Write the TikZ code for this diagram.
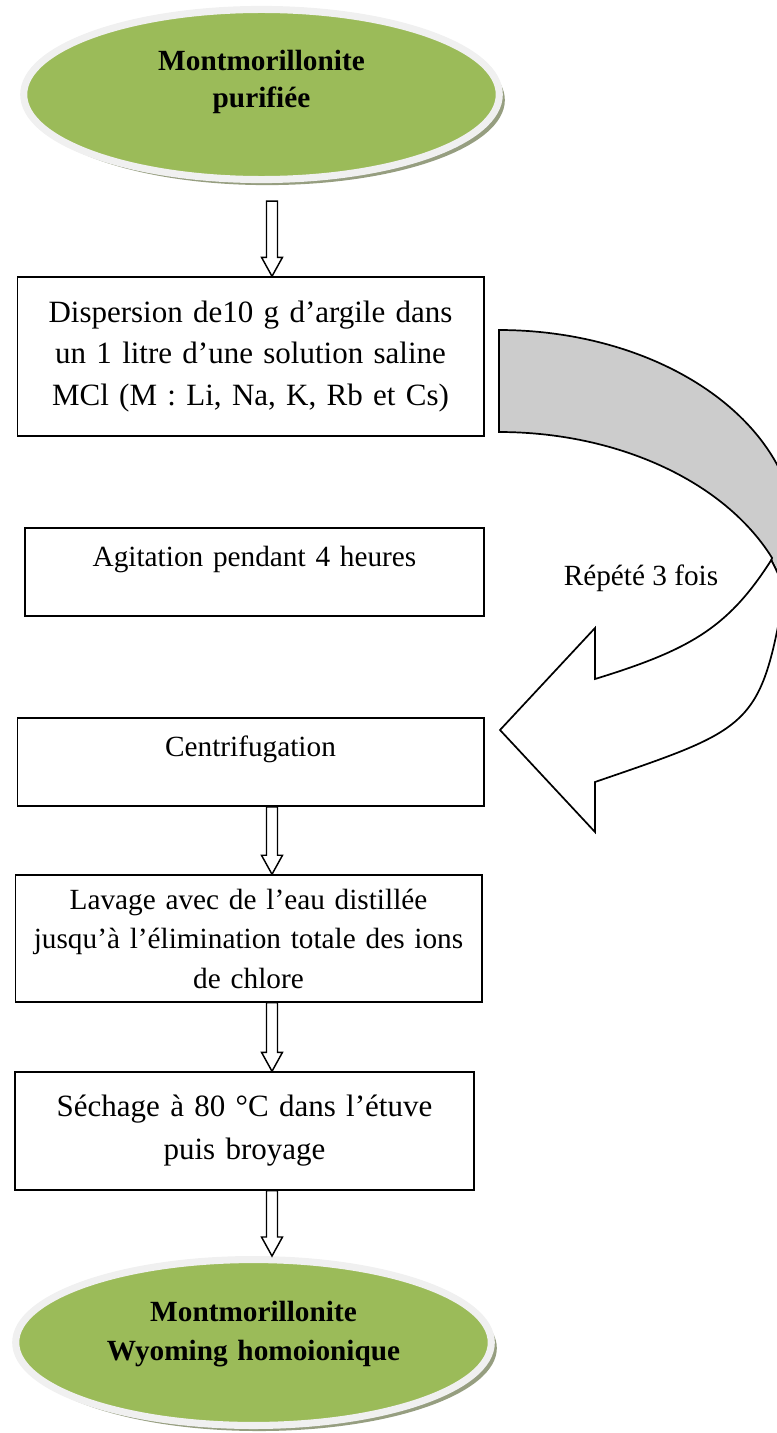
\documentclass[tikz,border=0pt]{standalone}
\usepackage{fontspec}
\setmainfont{Liberation Serif}
\usetikzlibrary{positioning,calc,shapes.geometric,shadows}
\definecolor{olivegreen}{RGB}{155,187,89}
\definecolor{ringgray}{RGB}{240,240,240}
\definecolor{shadowol}{RGB}{150,158,128}
\definecolor{backgray}{RGB}{204,204,204}
\newcommand{\hollowarr}[2]{\draw[harr]($(#1)+(-5.5,0)$)--($(#2)+(-5.5,-19)$)--($(#2)+(-10.5,-19)$)--(#2)--($(#2)+(10.5,-19)$)--($(#2)+(5.5,-19)$)--($(#1)+(5.5,0)$)--cycle;}

\begin{document}
\begin{tikzpicture}[x=0.0144cm,y=-0.0144cm,
 box/.style={draw,line width=.6pt,inner sep=.1cm,align=center,font=\fontsize{12}{16.2}\selectfont},
 oval/.style={ellipse,draw=ringgray,line width=2.9pt,fill=olivegreen,inner sep=0pt,text width=4.6cm,align=center,text height=.3cm,minimum width=6.85cm,drop shadow={shadow xshift=.08cm,shadow yshift=-.08cm,fill=shadowol,opacity=1}},
 harr/.style={draw,line width=.6pt,fill=white,line join=miter},
 band/.style={draw,line width=.7pt,line join=miter}]
\useasboundingbox (0,0) rectangle (777,1433);
\clip (0,0) rectangle (777,1433);
\node[oval,minimum height=2.45cm,text depth=.98cm,font=\bfseries\fontsize{12}{15}\selectfont] (top) at (261.5,94.5) {Montmorillonite\\purifiée};
\node[box,text width=6.52cm,minimum height=2.29cm,font=\fontsize{12.7}{17}\selectfont] (disp) at (250.5,356.5) {Dispersion de10 g d’argile dans\\un 1 litre d’une solution saline\\MCl (M : Li, Na, K, Rb et Cs)};
\node[box,text width=6.41cm,minimum height=1.27cm,text height=.3cm,text depth=.46cm] (agit) at (254.5,572) {Agitation pendant 4 heures};
\node[box,text width=6.52cm,minimum height=1.27cm,text height=.3cm,text depth=.46cm] (centr) at (250.5,762) {Centrifugation};
\node[box,text width=6.52cm,minimum height=1.83cm] (lav) at (248.5,938.5) {Lavage avec de l’eau distillée\\jusqu’à l’élimination totale des ions\\de chlore};
\node[box,text width=6.41cm,minimum height=1.70cm,font=\fontsize{12.7}{17.6}\selectfont] (sech) at (244.5,1131) {Séchage à 80 °C dans l’étuve\\puis broyage};
\node[oval,minimum height=2.39cm,text depth=.9cm,font=\bfseries\fontsize{12}{16}\selectfont] (bot) at (253.5,1342.5) {Montmorillonite\\Wyoming homoionique};
\draw[band,fill=backgray] (499,330)--plot[domain=-90:0,samples=60,variable=\t] ({499+298*cos(\t)},{540+210*sin(\t)})--(785,588)--(771.3,560)--plot[domain=-23.6:-90,samples=60,variable=\t] ({499+298*cos(\t)},{642+210*sin(\t)})--cycle;
\draw[band,fill=white] (771.3,560)--(785,588) .. controls (761,728) and (752,728) .. (595,782)--(595,832)--(500,730)--(595,628)--(595,679) .. controls (690.6,649.6) and (728.3,627.4) .. (771.3,560)--cycle;
\node[font=\fontsize{12}{14}\selectfont] (rep) at (641,578) {Répété 3 fois};
\coordinate (ax) at (272,0);
\path ($(top.south -| ax)+(0,18)$) coordinate (s1) (disp.north -| ax) coordinate (e1) (centr.south -| ax) coordinate (s2) (lav.north -| ax) coordinate (e2) (lav.south -| ax) coordinate (s3) (sech.north -| ax) coordinate (e3) (sech.south -| ax) coordinate (s4) (bot.north -| ax) coordinate (e4);
\hollowarr{s1}{e1}\hollowarr{s2}{e2}\hollowarr{s3}{e3}\hollowarr{s4}{e4}
\end{tikzpicture}
\end{document}
